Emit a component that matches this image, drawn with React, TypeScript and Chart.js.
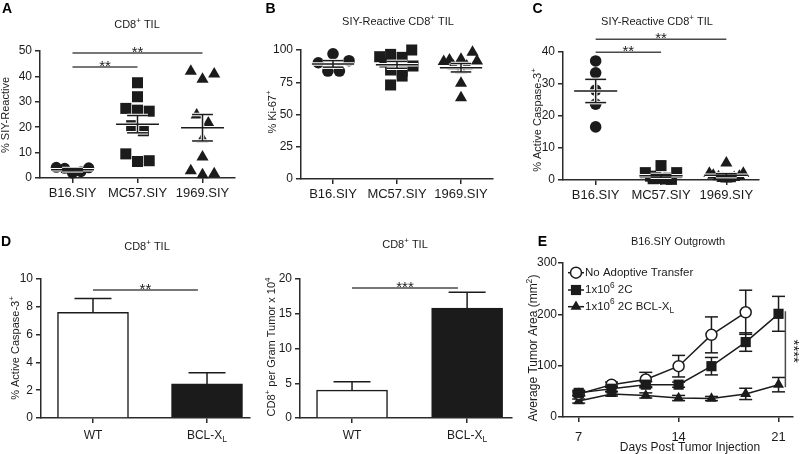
import React, { useEffect, useRef } from 'react';
import { Chart, registerables } from 'chart.js';
Chart.register(...registerables);

const FONT = '"Liberation Sans", Arial, Helvetica, sans-serif';
const INK = '#1b1b1b';
const AXIS = '#2a2a2a';
const SIG = '#4a4a4a';

// ---------- Panel A/B/C categories ----------
const groups = ['B16.SIY', 'MC57.SIY', '1969.SIY'];

// Panel A: CD8+ TIL, % SIY-Reactive
const aB16 = [4.2, 3.8, 1.9, 2.5, 4.0];
const aMC57 = [37.5, 32.0, 27.4, 26.7, 26.3, 20.6, 18.6, 9.5, 6.5, 6.8];
const a1969 = [42.0, 38.9, 40.9, 24.8, 21.7, 15.4, 8.3, 2.9, 1.3, 1.7];
const aJB16 = [-0.25, -0.12, 0, 0.13, 0.25];
const aJMC57 = [0, 0, -0.18, 0, 0.18, -0.09, 0.09, -0.18, 0, 0.18];
const aJ1969 = [-0.18, 0, 0.18, -0.09, 0.09, 0, 0, -0.18, 0, 0.18];
const aSig = [
  { from: 1, to: 2, y: 43.7, label: '**' },
  { from: 1, to: 3, y: 49.2, label: '**' },
];

// Panel B: SIY-Reactive CD8+ TIL, % Ki-67+
const bB16 = [90.1, 97.0, 91.7, 83.7, 83.7];
const bMC57 = [100, 96.6, 94.8, 94.3, 90.7, 87.6, 84.5, 83.7, 79.8, 72.9];
const b1969 = [92.2, 91.0, 98.2, 92.8, 91.5, 87.6, 87.6, 84.5, 74.2, 63.0];
const bJB16 = [-0.23, 0, 0.25, -0.08, 0.1];
const bJMC57 = [0.23, -0.1, -0.27, 0.08, -0.19, 0.25, -0.1, 0.08, 0.08, -0.1];
const bJ1969 = [-0.18, -0.27, 0.18, 0, 0.25, -0.12, 0.09, 0, 0, 0];

// Panel C: SIY-Reactive CD8+ TIL, % Active Caspase-3+
const cB16 = [37.2, 33.5, 28.1, 23.7, 16.6];
const cMC57 = [4.5, 2.3, 2.3, 1.2, 0.8, 0.5, 0.3, 0.2, 0.4, 0.6];
const c1969 = [5.3, 2.1, 2.1, 1.5, 1.2, 1.0, 0.8, 0.5, 0.3, 0.4];
const cJB16 = [0, 0, 0, 0, 0];
const cJMC57 = [0, -0.24, 0.24, -0.16, -0.08, 0, 0.08, 0.16, -0.12, 0.12];
const cJ1969 = [0, -0.26, 0.26, -0.2, 0.2, -0.12, 0.12, -0.06, 0, 0.06];
const cSig = [
  { from: 1, to: 2, y: 39.9, label: '**' },
  { from: 1, to: 3, y: 44.0, label: '**' },
];

// Panel D
const dGroups = ['WT', 'BCL-X_L'];
const dCasp = [7.6, 2.45];
const dCaspErr = [1.0, 0.8];
const dCount = [4.0, 15.8];
const dCountErr = [1.2, 2.3];
const dCaspSig = { from: 1, to: 1.92, y: 9.2, label: '**' };
const dCountSig = { from: 1, to: 1.92, y: 18.7, label: '***' };

// Panel E
const eDays = [7, 9.3, 11.7, 14, 16.3, 18.7, 21];
const eTickDays = [7, 14, 21];
const eNone = [45, 63, 73, 99, 160, 204, null];
const eNoneErr = [4, 5, 14, 21, 35, 43, null];
const e2C = [47, 55, 63, 63, 99, 146, 201];
const e2CErr = [5, 5, 6, 5, 17, 18, 34];
const eBcl = [31, 45, 42, 37, 36, 45, 63];
const eBclErr = [4, 4, 5, 5, 4, 11, 14];
const eLegend = ['No Adoptive Transfer', '1x10^6 2C', '1x10^6 2C BCL-X_L'];
const eSig = { x: 21.48, from: 58, to: 206, label: '****' };

// ---------- helpers ----------
type Seg = { t: string; k: number };
function parseRich(s: string): Seg[] {
  const out: Seg[] = [];
  let buf = '';
  for (let i = 0; i < s.length; i++) {
    const c = s[i];
    if (c === '^' || c === '_') {
      if (buf) { out.push({ t: buf, k: 0 }); buf = ''; }
      let t = '';
      if (s[i + 1] === '{') { const j = s.indexOf('}', i + 2); t = s.slice(i + 2, j); i = j; }
      else { t = s[i + 1]; i++; }
      out.push({ t, k: c === '^' ? 1 : -1 });
    } else buf += c;
  }
  if (buf) out.push({ t: buf, k: 0 });
  return out;
}

function drawRich(ctx: CanvasRenderingContext2D, s: string, x: number, y: number, size: number,
  o: { align?: string; rotate?: number; bold?: boolean; color?: string } = {}) {
  const segs = parseRich(s);
  const small = size * 0.72;
  ctx.save();
  ctx.translate(x, y);
  if (o.rotate) ctx.rotate(o.rotate);
  ctx.textBaseline = 'middle';
  ctx.textAlign = 'left';
  ctx.fillStyle = o.color || INK;
  const fontOf = (k: number) => `${o.bold ? 'bold ' : ''}${k ? small : size}px ${FONT}`;
  let w = 0;
  for (const sg of segs) { ctx.font = fontOf(sg.k); w += ctx.measureText(sg.t).width; }
  let cx = o.align === 'left' ? 0 : o.align === 'right' ? -w : -w / 2;
  for (const sg of segs) {
    ctx.font = fontOf(sg.k);
    const dy = sg.k === 1 ? -size * 0.4 : sg.k === -1 ? size * 0.32 : 0;
    ctx.fillText(sg.t, cx, dy);
    cx += ctx.measureText(sg.t).width;
  }
  ctx.restore();
}

function drawMarker(ctx: CanvasRenderingContext2D, style: string, x: number, y: number, r: number, fill: string, lw: number) {
  ctx.save();
  ctx.beginPath();
  if (style === 'circle') ctx.arc(x, y, r, 0, Math.PI * 2);
  else if (style === 'rect') { const h = r * Math.SQRT1_2; ctx.rect(x - h, y - h, 2 * h, 2 * h); }
  else { ctx.moveTo(x, y - r); ctx.lineTo(x + r * 0.866, y + r * 0.5); ctx.lineTo(x - r * 0.866, y + r * 0.5); ctx.closePath(); }
  ctx.fillStyle = fill; ctx.fill();
  if (lw) { ctx.lineWidth = lw; ctx.strokeStyle = INK; ctx.stroke(); }
  ctx.restore();
}

function line(ctx: CanvasRenderingContext2D, x1: number, y1: number, x2: number, y2: number, color: string, lw: number) {
  ctx.save();
  ctx.strokeStyle = color; ctx.lineWidth = lw;
  ctx.beginPath(); ctx.moveTo(x1, y1); ctx.lineTo(x2, y2); ctx.stroke();
  ctx.restore();
}

function sigH(chart: any, s: { from: number; to: number; y: number; label: string }) {
  const { ctx, scales: { x, y } } = chart;
  const py = y.getPixelForValue(s.y);
  const p1 = x.getPixelForValue(s.from), p2 = x.getPixelForValue(s.to);
  line(ctx, p1, py, p2, py, SIG, 1.5);
  ctx.save();
  ctx.fillStyle = INK; ctx.font = `15px ${FONT}`; ctx.textAlign = 'center'; ctx.textBaseline = 'alphabetic';
  ctx.fillText(s.label, (p1 + p2) / 2, py + 3.5);
  ctx.restore();
}

function drawMeanSem(chart: any, vals: number[][]) {
  const { ctx, scales: { x, y } } = chart;
  vals.forEach((v, g) => {
    const n = v.length;
    const m = v.reduce((a, b) => a + b, 0) / n;
    const sd = Math.sqrt(v.reduce((a, b) => a + (b - m) * (b - m), 0) / (n - 1));
    const sem = sd / Math.sqrt(n);
    const c = g + 1;
    const segs = [
      [c - 0.33, m, c + 0.33, m],
      [c, m - sem, c, m + sem],
      [c - 0.16, m + sem, c + 0.16, m + sem],
      [c - 0.16, m - sem, c + 0.16, m - sem],
    ];
    for (const pass of [0, 1]) {
      for (const [x1, y1, x2, y2] of segs) {
        line(ctx, x.getPixelForValue(x1), y.getPixelForValue(y1), x.getPixelForValue(x2), y.getPixelForValue(y2),
          pass ? INK : '#ffffff', pass ? 1.5 : 3.5);
      }
    }
  });
}

function yAxis(min: number, max: number, step: number, width: number, fontSize = 12, padding = 3) {
  return {
    type: 'linear' as const, min, max,
    ticks: { stepSize: step, font: { family: FONT, size: fontSize }, color: INK, padding },
    grid: { drawOnChartArea: false, drawTicks: true, tickLength: 5, color: AXIS, lineWidth: 1.5 },
    border: { display: true, color: AXIS, width: 1.5 },
    afterFit: (s: any) => { s.width = width; },
  };
}

function xAxis(min: number, max: number, values: number[], labels: string[], height: number, fontSize = 13, padding = 3, color = INK) {
  return {
    type: 'linear' as const, min, max, offset: false,
    afterBuildTicks: (s: any) => { s.ticks = values.map((v) => ({ value: v })); },
    ticks: {
      callback: (v: any) => { const i = values.indexOf(v); return i >= 0 ? labels[i] : ''; },
      font: { family: FONT, size: fontSize }, color, padding, maxRotation: 0, minRotation: 0, autoSkip: false,
    },
    grid: { drawOnChartArea: false, drawTicks: true, tickLength: 5, color: AXIS, lineWidth: 1.5, offset: false },
    border: { display: true, color: AXIS, width: 1.5 },
    afterFit: (s: any) => { s.height = height; },
  };
}

type Area = { left: number; top: number; right: number; bottom: number };
type TextSpec = { letter?: [string, number, number]; title: [string, number, number]; ytitle: [string, number, number]; ysize?: number };

function drawTexts(chart: any, t: TextSpec) {
  const ctx = chart.ctx;
  if (t.letter) drawRich(ctx, t.letter[0], t.letter[1], t.letter[2], 14, { bold: true, color: '#000' });
  drawRich(ctx, t.title[0], t.title[1], t.title[2], 11);
  drawRich(ctx, t.ytitle[0], t.ytitle[1], t.ytitle[2], t.ysize || 11, { rotate: -Math.PI / 2 });
}

function scatterChart(canvas: HTMLCanvasElement, W: number, H: number, area: Area,
  vals: number[][], jit: number[][], styles: string[], radii: number[],
  yMin: number, yMax: number, yStep: number, texts: TextSpec, sigs: any[]) {
  return new Chart(canvas, {
    type: 'scatter',
    data: {
      datasets: vals.map((v, g) => ({
        data: v.map((yv, i) => ({ x: g + 1 + jit[g][i], y: yv })),
        pointStyle: styles[g] as any,
        pointRadius: radii[g],
        pointBackgroundColor: INK,
        pointBorderColor: INK,
        pointBorderWidth: 0,
        clip: false as any,
      })),
    },
    options: {
      responsive: false, animation: false, events: [],
      layout: { padding: { left: 0, top: area.top, right: W - area.right, bottom: 0 } },
      plugins: { legend: { display: false }, tooltip: { enabled: false } },
      scales: {
        x: xAxis(0.5, 3.5, [1, 2, 3], groups, H - area.bottom, 13, 3) as any,
        y: yAxis(yMin, yMax, yStep, area.left) as any,
      },
    },
    plugins: [{
      id: 'ann',
      afterDatasetsDraw: (chart: any) => {
        drawMeanSem(chart, vals);
        sigs.forEach((s) => sigH(chart, s));
        drawTexts(chart, texts);
      },
    }],
  });
}

function barChart(canvas: HTMLCanvasElement, W: number, H: number, area: Area, vals: number[], errs: number[],
  xMin: number, xMax: number, yMax: number, yStep: number, texts: TextSpec, sig: any) {
  return new Chart(canvas, {
    type: 'bar',
    data: {
      datasets: [{
        data: vals.map((v, i) => ({ x: i + 1, y: v })) as any,
        backgroundColor: ['#ffffff', INK],
        borderColor: INK,
        borderWidth: 1.5,
        barThickness: 71,
      }],
    },
    options: {
      responsive: false, animation: false, events: [],
      layout: { padding: { left: 0, top: area.top, right: W - area.right, bottom: 0 } },
      plugins: { legend: { display: false }, tooltip: { enabled: false } },
      scales: {
        x: xAxis(xMin, xMax, [1, 2], dGroups.map((g) => g.replace('_', '')), H - area.bottom, 12, 3, 'rgba(0,0,0,0)') as any,
        y: yAxis(0, yMax, yStep, area.left) as any,
      },
    },
    plugins: [{
      id: 'ann',
      afterDatasetsDraw: (chart: any) => {
        const { ctx, scales: { x, y } } = chart;
        vals.forEach((v, i) => {
          const px = x.getPixelForValue(i + 1);
          const top = y.getPixelForValue(v + errs[i]);
          line(ctx, px, y.getPixelForValue(v), px, top, INK, 1.5);
          line(ctx, px - 18.5, top, px + 18.5, top, INK, 1.5);
        });
        dGroups.forEach((g, i) => {
          drawRich(ctx, g, x.getPixelForValue(i + 1), chart.chartArea.bottom + 18, 12);
        });
        sigH(chart, sig);
        drawTexts(chart, texts);
      },
    }],
  });
}

function lineChart(canvas: HTMLCanvasElement, W: number, H: number, area: Area) {
  const series = [
    { v: e2C, e: e2CErr, style: 'rect', r: 7.2, fill: INK, lw: 0 },
    { v: eNone, e: eNoneErr, style: 'circle', r: 5.5, fill: '#ffffff', lw: 1.5 },
    { v: eBcl, e: eBclErr, style: 'triangle', r: 6.3, fill: INK, lw: 0 },
  ];
  const legendOrder = [1, 0, 2];
  const LX = area.left;
  return new Chart(canvas, {
    type: 'line',
    data: {
      datasets: series.map((s) => ({
        data: eDays.map((d, i) => ({ x: d, y: s.v[i] })) as any,
        borderColor: INK,
        borderWidth: 1.5,
        pointStyle: s.style as any,
        pointRadius: s.r,
        pointBackgroundColor: s.fill,
        pointBorderColor: INK,
        pointBorderWidth: s.lw,
        tension: 0,
        clip: false as any,
      })),
    },
    options: {
      responsive: false, animation: false, events: [],
      layout: { padding: { left: 0, top: area.top, right: W - area.right, bottom: 0 } },
      plugins: { legend: { display: false }, tooltip: { enabled: false } },
      scales: {
        x: xAxis(5.9, 22, eTickDays, eTickDays.map(String), H - area.bottom, 13, 8) as any,
        y: yAxis(0, 300, 100, area.left, 12, 1) as any,
      },
    },
    plugins: [{
      id: 'errs',
      beforeDatasetsDraw: (chart: any) => {
        const { ctx, scales: { x, y } } = chart;
        series.forEach((s) => {
          eDays.forEach((d, i) => {
            const v = s.v[i], e = s.e[i];
            if (v == null || e == null) return;
            const px = x.getPixelForValue(d);
            const hi = y.getPixelForValue(v + e), lo = y.getPixelForValue(v - e);
            line(ctx, px, hi, px, lo, INK, 1.5);
            line(ctx, px - 6.5, hi, px + 6.5, hi, INK, 1.5);
            line(ctx, px - 6.5, lo, px + 6.5, lo, INK, 1.5);
          });
        });
      },
      afterDatasetsDraw: (chart: any) => {
        const { ctx, scales: { x, y } } = chart;
        // legend
        const rows = [47.7, 65, 81.7];
        legendOrder.forEach((si, k) => {
          const s = series[si];
          const yy = rows[k];
          line(ctx, LX + 5, yy, LX + 21, yy, INK, 1.5);
          drawMarker(ctx, s.style, LX + 13, yy, s.r, s.fill, s.lw);
          drawRich(ctx, eLegend[k], LX + 22, yy, 11.5, { align: 'left' });
        });
        // significance
        const px = x.getPixelForValue(eSig.x);
        line(ctx, px, y.getPixelForValue(eSig.from), px, y.getPixelForValue(eSig.to), SIG, 1.5);
        ctx.save();
        ctx.translate(px + 7, (y.getPixelForValue(eSig.from) + y.getPixelForValue(eSig.to)) / 2 + 2);
        ctx.rotate(Math.PI / 2);
        ctx.fillStyle = INK; ctx.font = `15px ${FONT}`; ctx.textAlign = 'center'; ctx.textBaseline = 'alphabetic';
        ctx.fillText(eSig.label, 0, 3.5);
        ctx.restore();
        drawTexts(chart, {
          letter: ['E', LX - 20.5, 17.5],
          title: ['B16.SIY Outgrowth', LX + 115, 17],
          ytitle: ['Average Tumor Area (mm^2)', LX - 29, 123],
          ysize: 12,
        });
        drawRich(ctx, 'Days Post Tumor Injection', LX + 127, 223, 12);
      },
    }],
  });
}

function Panel({ left, top, width, height, build }: { left: number; top: number; width: number; height: number; build: (c: HTMLCanvasElement) => Chart }) {
  const ref = useRef<HTMLCanvasElement>(null);
  useEffect(() => {
    const c = build(ref.current as HTMLCanvasElement);
    return () => c.destroy();
  }, []);
  return <canvas ref={ref} width={width} height={height} style={{ position: 'absolute', left, top, width, height }} />;
}

export default function App() {
  return (
    <div style={{ position: 'fixed', left: 0, top: 0, width: 800, height: 454, background: '#ffffff', overflow: 'hidden' }}>
      <Panel left={0} top={0} width={265} height={200} build={(c) => scatterChart(c, 265, 200,
        { left: 40, top: 51, right: 235, bottom: 178 },
        [aB16, aMC57, a1969], [aJB16, aJMC57, aJ1969], ['circle', 'rect', 'triangle'], [5.5, 7.8, 7],
        0, 50, 10,
        { letter: ['A', 7, 9], title: ['CD8^+ TIL', 137, 25], ytitle: ['% SIY-Reactive', 6, 115] }, aSig)} />
      <Panel left={265} top={0} width={265} height={200} build={(c) => scatterChart(c, 265, 200,
        { left: 36, top: 50, right: 228, bottom: 179 },
        [bB16, bMC57, b1969], [bJB16, bJMC57, bJ1969], ['circle', 'rect', 'triangle'], [5.8, 7.8, 7],
        0, 100, 25,
        { letter: ['B', 5.5, 9], title: ['SIY-Reactive CD8^+ TIL', 133, 22], ytitle: ['% Ki-67^+', 8, 112] }, [])} />
      <Panel left={530} top={0} width={270} height={200} build={(c) => scatterChart(c, 270, 200,
        { left: 33, top: 52, right: 229, bottom: 180 },
        [cB16, cMC57, c1969], [cJB16, cJMC57, cJ1969], ['circle', 'rect', 'triangle'], [5.8, 7.8, 7],
        0, 40, 10,
        { letter: ['C', 7.5, 9], title: ['SIY-Reactive CD8^+ TIL', 127, 22], ytitle: ['% Active Caspase-3^+', 8, 120] }, cSig)} />
      <Panel left={0} top={225} width={265} height={229} build={(c) => barChart(c, 265, 229,
        { left: 41, top: 54, right: 250, bottom: 193 },
        dCasp, dCaspErr, 0.544, 2.377, 10, 2,
        { letter: ['D', 6, 17.5], title: ['CD8^+ TIL', 147, 22], ytitle: ['% Active Caspase-3^+', 16, 123] }, dCaspSig)} />
      <Panel left={265} top={225} width={260} height={229} build={(c) => barChart(c, 260, 229,
        { left: 35, top: 54, right: 247, bottom: 193 },
        dCount, dCountErr, 0.548, 2.39, 20, 5,
        { title: ['CD8^+ TIL', 140, 20], ytitle: ['CD8^+ per Gram Tumor x 10^4', 7, 122] }, dCountSig)} />
      <Panel left={525} top={225} width={275} height={229} build={(c) => lineChart(c, 275, 229,
        { left: 38, top: 38, right: 270, bottom: 192 })} />
    </div>
  );
}
